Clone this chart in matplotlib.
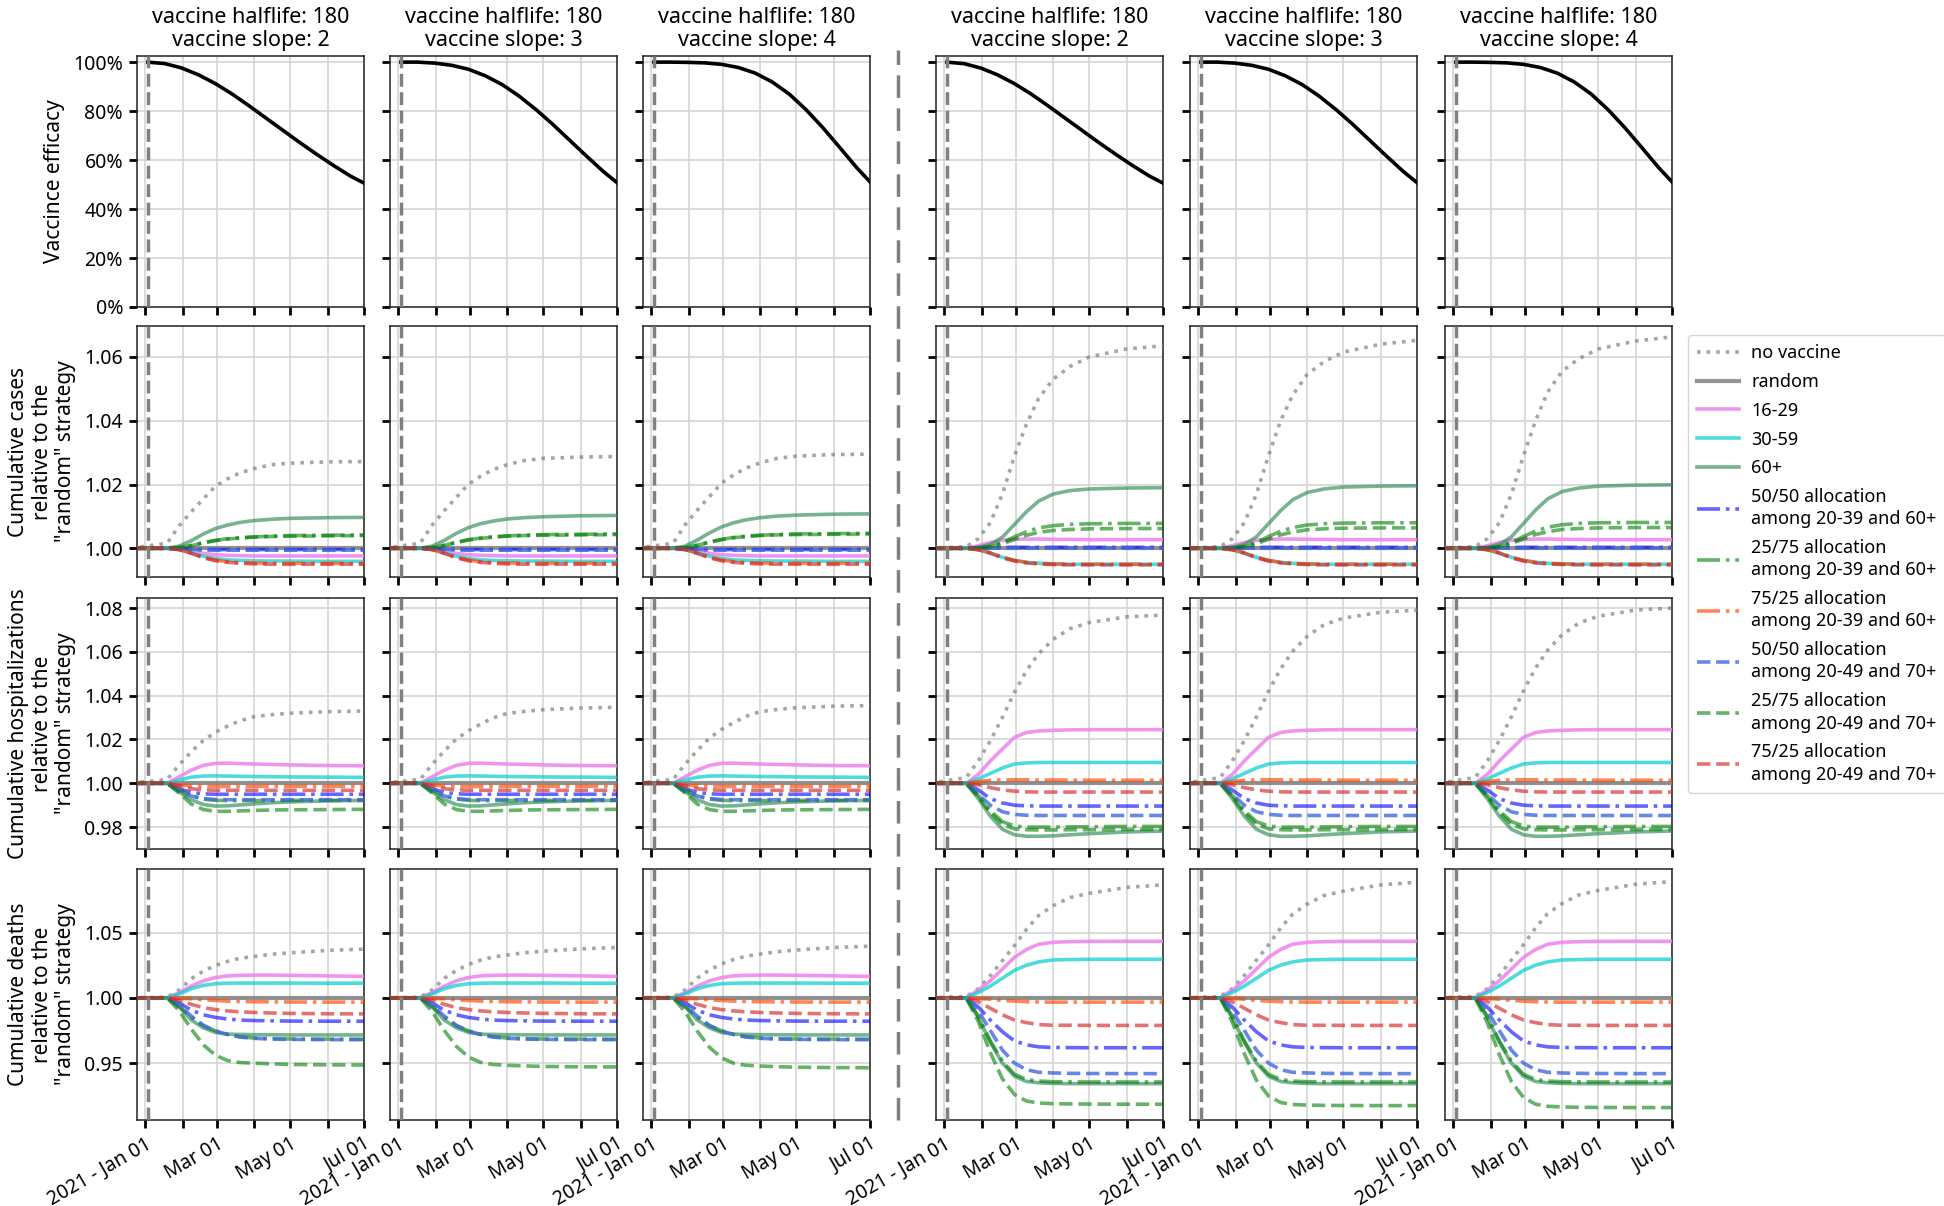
import matplotlib.pyplot as plt
import pandas as pd
from matplotlib.lines import Line2D
from matplotlib.ticker import PercentFormatter

plt.rcParams["font.family"] = ["Noto Sans", "DejaVu Sans"]

# ---------------- data ----------------
slopes = [2, 3, 4, 2, 3, 4]
halflife = 180

month_ticks = pd.to_datetime(["2021-01-01", "2021-02-01", "2021-03-01", "2021-04-01",
                              "2021-05-01", "2021-06-01", "2021-07-01"])
month_labels = ["2021 - Jan 01", "", "Mar 01", "", "May 01", "", "Jul 01"]
vacc_start = pd.Timestamp("2021-01-03")
x_start = pd.Timestamp("2020-12-25")
x_end = pd.Timestamp("2021-07-01")

# efficacy curves (row 1)
eff_dates = pd.to_datetime(["2021-01-03", "2021-01-17", "2021-01-31", "2021-02-14", "2021-02-28",
                            "2021-03-14", "2021-03-28", "2021-04-11", "2021-04-25", "2021-05-09",
                            "2021-05-23", "2021-06-06", "2021-06-20", "2021-07-01"])
eff_slope2 = [1.0, 0.994, 0.976, 0.948, 0.912, 0.869, 0.821, 0.771, 0.721, 0.671, 0.623, 0.577, 0.534, 0.506]
eff_slope3 = [1.0, 1.0, 0.996, 0.987, 0.971, 0.944, 0.908, 0.861, 0.806, 0.745, 0.680, 0.615, 0.552, 0.508]
eff_slope4 = [1.0, 1.0, 0.999, 0.997, 0.991, 0.978, 0.955, 0.919, 0.870, 0.806, 0.732, 0.651, 0.569, 0.511]

# simulation output dates (rows 2-4)
dates = pd.to_datetime(["2020-12-20", "2021-01-19", "2021-01-29", "2021-02-08", "2021-02-18",
                        "2021-02-28", "2021-03-10", "2021-03-20", "2021-04-01", "2021-04-15",
                        "2021-05-01", "2021-06-01", "2021-07-01"])
baseline = [1.0, 1.0, 1.0, 1.0, 1.0, 1.0, 1.0, 1.0, 1.0, 1.0, 1.0, 1.0, 1.0]

# --- cumulative cases, one list per column
cases_no_vaccine = [
    [1.0, 1.0016, 1.0071, 1.0115, 1.0155, 1.0195, 1.0218, 1.0236, 1.0250, 1.0262, 1.0267, 1.0271, 1.0272],
    [1.0, 1.0016, 1.0073, 1.0118, 1.0160, 1.0201, 1.0226, 1.0246, 1.0262, 1.0275, 1.0282, 1.0286, 1.0288],
    [1.0, 1.0016, 1.0074, 1.0120, 1.0162, 1.0204, 1.0230, 1.0251, 1.0268, 1.0282, 1.0289, 1.0294, 1.0295],
    [1.0, 1.0005, 1.0030, 1.0080, 1.0170, 1.0290, 1.0390, 1.0470, 1.0530, 1.0570, 1.0600, 1.0625, 1.0635],
    [1.0, 1.0005, 1.0030, 1.0080, 1.0170, 1.0290, 1.0400, 1.0480, 1.0545, 1.0585, 1.0615, 1.0640, 1.0652],
    [1.0, 1.0005, 1.0030, 1.0080, 1.0170, 1.0290, 1.0400, 1.0490, 1.0555, 1.0595, 1.0625, 1.0650, 1.0663],
]
cases_16_29_l = [1.0, 1.0, 0.9997, 0.9990, 0.9984, 0.9980, 0.9978, 0.9977, 0.9976, 0.9976, 0.9976, 0.9976, 0.9976]
cases_16_29_r = [1.0, 1.0, 1.0008, 1.0018, 1.0025, 1.0028, 1.0029, 1.0029, 1.0028, 1.0028, 1.0027, 1.0027, 1.0027]
cases_16_29 = [cases_16_29_l, cases_16_29_l, cases_16_29_l, cases_16_29_r, cases_16_29_r, cases_16_29_r]
cases_30_59_l = [1.0, 1.0, 0.9996, 0.9985, 0.9975, 0.9968, 0.9964, 0.9962, 0.9961, 0.9960, 0.9960, 0.9959, 0.9959]
cases_30_59_r = [1.0, 1.0, 0.9995, 0.9985, 0.9972, 0.9962, 0.9956, 0.9953, 0.9951, 0.9950, 0.9950, 0.9950, 0.9950]
cases_30_59 = [cases_30_59_l, cases_30_59_l, cases_30_59_l, cases_30_59_r, cases_30_59_r, cases_30_59_r]
cases_60_plus = [
    [1.0, 1.0, 1.0007, 1.0024, 1.0045, 1.0062, 1.0073, 1.0081, 1.0087, 1.0091, 1.0094, 1.0096, 1.0097],
    [1.0, 1.0, 1.0007, 1.0025, 1.0047, 1.0065, 1.0077, 1.0085, 1.0092, 1.0096, 1.0099, 1.0102, 1.0103],
    [1.0, 1.0, 1.0007, 1.0026, 1.0048, 1.0067, 1.0080, 1.0089, 1.0096, 1.0101, 1.0104, 1.0107, 1.0108],
    [1.0, 1.0, 1.0003, 1.0012, 1.0035, 1.0075, 1.0115, 1.0148, 1.0170, 1.0181, 1.0186, 1.0189, 1.0190],
    [1.0, 1.0, 1.0003, 1.0012, 1.0036, 1.0077, 1.0118, 1.0152, 1.0175, 1.0186, 1.0192, 1.0195, 1.0196],
    [1.0, 1.0, 1.0003, 1.0012, 1.0036, 1.0078, 1.0120, 1.0155, 1.0178, 1.0189, 1.0195, 1.0198, 1.0199],
]
cases_5050_a_l = [1.0, 1.0, 0.9999, 0.9997, 0.9996, 0.9996, 0.9996, 0.9996, 0.9996, 0.9996, 0.9996, 0.9996, 0.9996]
cases_5050_a_r = [1.0, 1.0, 1.0000, 1.0002, 1.0003, 1.0003, 1.0003, 1.0003, 1.0003, 1.0003, 1.0003, 1.0003, 1.0003]
cases_5050_a = [cases_5050_a_l, cases_5050_a_l, cases_5050_a_l, cases_5050_a_r, cases_5050_a_r, cases_5050_a_r]
cases_2575_a = [
    [1.0, 1.0, 1.0002, 1.0009, 1.0018, 1.0025, 1.0030, 1.0033, 1.0036, 1.0038, 1.0040, 1.0041, 1.0042],
    [1.0, 1.0, 1.0002, 1.0010, 1.0019, 1.0027, 1.0032, 1.0036, 1.0039, 1.0041, 1.0043, 1.0044, 1.0045],
    [1.0, 1.0, 1.0002, 1.0010, 1.0020, 1.0028, 1.0034, 1.0038, 1.0041, 1.0043, 1.0045, 1.0046, 1.0047],
    [1.0, 1.0, 1.0001, 1.0006, 1.0018, 1.0036, 1.0052, 1.0064, 1.0071, 1.0075, 1.0077, 1.0078, 1.0078],
    [1.0, 1.0, 1.0001, 1.0006, 1.0018, 1.0037, 1.0053, 1.0065, 1.0073, 1.0077, 1.0079, 1.0080, 1.0080],
    [1.0, 1.0, 1.0001, 1.0006, 1.0018, 1.0037, 1.0054, 1.0066, 1.0074, 1.0078, 1.0080, 1.0081, 1.0081],
]
cases_7525_a_l = [1.0, 1.0, 0.9996, 0.9985, 0.9972, 0.9963, 0.9958, 0.9955, 0.9954, 0.9953, 0.9953, 0.9953, 0.9953]
cases_7525_a_r = [1.0, 1.0, 0.9996, 0.9986, 0.9972, 0.9962, 0.9956, 0.9953, 0.9951, 0.9950, 0.9950, 0.9950, 0.9950]
cases_7525_a = [cases_7525_a_l, cases_7525_a_l, cases_7525_a_l, cases_7525_a_r, cases_7525_a_r, cases_7525_a_r]
cases_5050_b_l = [1.0, 1.0, 0.9999, 0.9997, 0.9995, 0.9994, 0.9994, 0.9994, 0.9994, 0.9994, 0.9994, 0.9994, 0.9994]
cases_5050_b_r = [1.0, 1.0, 1.0000, 1.0001, 1.0001, 1.0001, 1.0001, 1.0001, 1.0001, 1.0001, 1.0001, 1.0001, 1.0001]
cases_5050_b = [cases_5050_b_l, cases_5050_b_l, cases_5050_b_l, cases_5050_b_r, cases_5050_b_r, cases_5050_b_r]
cases_2575_b = [
    [1.0, 1.0, 1.0002, 1.0008, 1.0017, 1.0024, 1.0029, 1.0032, 1.0035, 1.0037, 1.0038, 1.0039, 1.0040],
    [1.0, 1.0, 1.0002, 1.0009, 1.0018, 1.0026, 1.0031, 1.0035, 1.0038, 1.0040, 1.0041, 1.0042, 1.0043],
    [1.0, 1.0, 1.0002, 1.0009, 1.0019, 1.0027, 1.0033, 1.0037, 1.0040, 1.0042, 1.0043, 1.0044, 1.0045],
    [1.0, 1.0, 1.0001, 1.0005, 1.0014, 1.0028, 1.0041, 1.0050, 1.0056, 1.0059, 1.0061, 1.0062, 1.0062],
    [1.0, 1.0, 1.0001, 1.0005, 1.0014, 1.0029, 1.0042, 1.0051, 1.0058, 1.0061, 1.0063, 1.0064, 1.0064],
    [1.0, 1.0, 1.0001, 1.0005, 1.0015, 1.0029, 1.0043, 1.0052, 1.0059, 1.0062, 1.0064, 1.0065, 1.0065],
]
cases_7525_b_l = [1.0, 1.0, 0.9996, 0.9984, 0.9970, 0.9961, 0.9956, 0.9953, 0.9951, 0.9950, 0.9950, 0.9950, 0.9950]
cases_7525_b_r = [1.0, 1.0, 0.9996, 0.9985, 0.9970, 0.9960, 0.9954, 0.9951, 0.9949, 0.9948, 0.9948, 0.9948, 0.9948]
cases_7525_b = [cases_7525_b_l, cases_7525_b_l, cases_7525_b_l, cases_7525_b_r, cases_7525_b_r, cases_7525_b_r]

# --- cumulative hospitalizations
hosp_no_vaccine = [
    [1.0, 1.0018, 1.0085, 1.0144, 1.0196, 1.0233, 1.0261, 1.0285, 1.0304, 1.0313, 1.0320, 1.0327, 1.0330],
    [1.0, 1.0018, 1.0087, 1.0148, 1.0202, 1.0240, 1.0270, 1.0298, 1.0319, 1.0328, 1.0336, 1.0344, 1.0347],
    [1.0, 1.0018, 1.0088, 1.0150, 1.0206, 1.0246, 1.0277, 1.0305, 1.0327, 1.0337, 1.0345, 1.0352, 1.0355],
    [1.0, 1.0026, 1.0102, 1.0194, 1.0301, 1.0416, 1.0515, 1.0592, 1.0657, 1.0706, 1.0734, 1.0760, 1.0768],
    [1.0, 1.0026, 1.0102, 1.0195, 1.0303, 1.0420, 1.0522, 1.0603, 1.0671, 1.0724, 1.0754, 1.0781, 1.0790],
    [1.0, 1.0026, 1.0102, 1.0195, 1.0304, 1.0422, 1.0526, 1.0608, 1.0678, 1.0732, 1.0763, 1.0791, 1.0800],
]
hosp_16_29_l = [1.0, 1.0, 1.0030, 1.0060, 1.0082, 1.0091, 1.0092, 1.0090, 1.0088, 1.0086, 1.0084, 1.0081, 1.0080]
hosp_16_29_r = [1.0, 1.0, 1.0040, 1.0102, 1.0156, 1.0210, 1.0232, 1.0239, 1.0242, 1.0244, 1.0245, 1.0245, 1.0245]
hosp_16_29 = [hosp_16_29_l, hosp_16_29_l, hosp_16_29_l, hosp_16_29_r, hosp_16_29_r, hosp_16_29_r]
hosp_30_59_l = [1.0, 1.0, 1.0015, 1.0028, 1.0033, 1.0034, 1.0033, 1.0032, 1.0031, 1.0030, 1.0029, 1.0028, 1.0027]
hosp_30_59_r = [1.0, 1.0, 1.0020, 1.0045, 1.0070, 1.0088, 1.0093, 1.0095, 1.0095, 1.0095, 1.0095, 1.0095, 1.0095]
hosp_30_59 = [hosp_30_59_l, hosp_30_59_l, hosp_30_59_l, hosp_30_59_r, hosp_30_59_r, hosp_30_59_r]
hosp_60_plus_l = [1.0, 1.0, 0.9960, 0.9925, 0.9903, 0.9896, 0.9897, 0.9901, 0.9906, 0.9911, 0.9915, 0.9920, 0.9922]
hosp_60_plus_r = [1.0, 1.0, 0.9930, 0.9850, 0.9790, 0.9765, 0.9758, 0.9758, 0.9760, 0.9765, 0.9770, 0.9778, 0.9782]
hosp_60_plus = [hosp_60_plus_l, hosp_60_plus_l, hosp_60_plus_l, hosp_60_plus_r, hosp_60_plus_r, hosp_60_plus_r]
hosp_5050_a_l = [1.0, 1.0, 0.9975, 0.9958, 0.9952, 0.9950, 0.9950, 0.9950, 0.9950, 0.9950, 0.9950, 0.9950, 0.9950]
hosp_5050_a_r = [1.0, 1.0, 0.9970, 0.9930, 0.9910, 0.9900, 0.9897, 0.9896, 0.9896, 0.9896, 0.9896, 0.9896, 0.9896]
hosp_5050_a = [hosp_5050_a_l, hosp_5050_a_l, hosp_5050_a_l, hosp_5050_a_r, hosp_5050_a_r, hosp_5050_a_r]
hosp_2575_a_l = [1.0, 1.0, 0.9968, 0.9942, 0.9928, 0.9922, 0.9921, 0.9921, 0.9921, 0.9921, 0.9922, 0.9922, 0.9922]
hosp_2575_a_r = [1.0, 1.0, 0.9945, 0.9875, 0.9825, 0.9805, 0.9800, 0.9800, 0.9800, 0.9801, 0.9802, 0.9803, 0.9803]
hosp_2575_a = [hosp_2575_a_l, hosp_2575_a_l, hosp_2575_a_l, hosp_2575_a_r, hosp_2575_a_r, hosp_2575_a_r]
hosp_7525_a_l = [1.0, 1.0, 0.9993, 0.9987, 0.9985, 0.9985, 0.9985, 0.9985, 0.9986, 0.9986, 0.9986, 0.9986, 0.9986]
hosp_7525_a_r = [1.0, 1.0, 1.0008, 1.0014, 1.0016, 1.0016, 1.0016, 1.0015, 1.0015, 1.0015, 1.0014, 1.0014, 1.0014]
hosp_7525_a = [hosp_7525_a_l, hosp_7525_a_l, hosp_7525_a_l, hosp_7525_a_r, hosp_7525_a_r, hosp_7525_a_r]
hosp_5050_b_l = [1.0, 1.0, 0.9966, 0.9942, 0.9930, 0.9926, 0.9925, 0.9925, 0.9925, 0.9925, 0.9925, 0.9925, 0.9925]
hosp_5050_b_r = [1.0, 1.0, 0.9950, 0.9900, 0.9870, 0.9858, 0.9854, 0.9853, 0.9853, 0.9853, 0.9853, 0.9853, 0.9853]
hosp_5050_b = [hosp_5050_b_l, hosp_5050_b_l, hosp_5050_b_l, hosp_5050_b_r, hosp_5050_b_r, hosp_5050_b_r]
hosp_2575_b_l = [1.0, 1.0, 0.9955, 0.9905, 0.9880, 0.9872, 0.9872, 0.9874, 0.9876, 0.9878, 0.9879, 0.9880, 0.9881]
hosp_2575_b_r = [1.0, 1.0, 0.9940, 0.9865, 0.9812, 0.9792, 0.9788, 0.9787, 0.9787, 0.9788, 0.9788, 0.9789, 0.9789]
hosp_2575_b = [hosp_2575_b_l, hosp_2575_b_l, hosp_2575_b_l, hosp_2575_b_r, hosp_2575_b_r, hosp_2575_b_r]
hosp_7525_b_l = [1.0, 1.0, 0.9988, 0.9975, 0.9970, 0.9968, 0.9968, 0.9968, 0.9968, 0.9968, 0.9968, 0.9968, 0.9968]
hosp_7525_b_r = [1.0, 1.0, 0.9993, 0.9980, 0.9970, 0.9964, 0.9961, 0.9960, 0.9960, 0.9960, 0.9960, 0.9960, 0.9960]
hosp_7525_b = [hosp_7525_b_l, hosp_7525_b_l, hosp_7525_b_l, hosp_7525_b_r, hosp_7525_b_r, hosp_7525_b_r]

# --- cumulative deaths
deaths_no_vaccine = [
    [1.0, 1.0005, 1.0060, 1.0146, 1.0205, 1.0248, 1.0279, 1.0302, 1.0317, 1.0333, 1.0345, 1.0363, 1.0373],
    [1.0, 1.0005, 1.0061, 1.0149, 1.0210, 1.0255, 1.0288, 1.0312, 1.0328, 1.0345, 1.0357, 1.0375, 1.0385],
    [1.0, 1.0005, 1.0062, 1.0151, 1.0213, 1.0259, 1.0293, 1.0318, 1.0335, 1.0353, 1.0366, 1.0385, 1.0395],
    [1.0, 1.0010, 1.0069, 1.0170, 1.0285, 1.0400, 1.0525, 1.0630, 1.0705, 1.0768, 1.0800, 1.0845, 1.0865],
    [1.0, 1.0010, 1.0069, 1.0171, 1.0288, 1.0405, 1.0533, 1.0640, 1.0718, 1.0783, 1.0817, 1.0864, 1.0885],
    [1.0, 1.0010, 1.0069, 1.0171, 1.0289, 1.0407, 1.0536, 1.0644, 1.0722, 1.0788, 1.0822, 1.0869, 1.0890],
]
deaths_16_29_l = [1.0, 1.0, 1.0040, 1.0090, 1.0130, 1.0155, 1.0168, 1.0172, 1.0174, 1.0174, 1.0172, 1.0168, 1.0164]
deaths_16_29_r = [1.0, 1.0, 1.0060, 1.0130, 1.0220, 1.0310, 1.0370, 1.0410, 1.0425, 1.0430, 1.0432, 1.0433, 1.0433]
deaths_16_29 = [deaths_16_29_l, deaths_16_29_l, deaths_16_29_l, deaths_16_29_r, deaths_16_29_r, deaths_16_29_r]
deaths_30_59_l = [1.0, 1.0, 1.0030, 1.0070, 1.0095, 1.0108, 1.0112, 1.0113, 1.0113, 1.0113, 1.0113, 1.0112, 1.0112]
deaths_30_59_r = [1.0, 1.0, 1.0040, 1.0090, 1.0150, 1.0210, 1.0250, 1.0275, 1.0290, 1.0293, 1.0295, 1.0295, 1.0295]
deaths_30_59 = [deaths_30_59_l, deaths_30_59_l, deaths_30_59_l, deaths_30_59_r, deaths_30_59_r, deaths_30_59_r]
deaths_60_plus_l = [1.0, 1.0, 0.9930, 0.9830, 0.9770, 0.9735, 0.9722, 0.9720, 0.9718, 0.9717, 0.9716, 0.9716, 0.9716]
deaths_60_plus_r = [1.0, 1.0, 0.9850, 0.9660, 0.9500, 0.9400, 0.9360, 0.9350, 0.9345, 0.9343, 0.9343, 0.9343, 0.9343]
deaths_60_plus = [deaths_60_plus_l, deaths_60_plus_l, deaths_60_plus_l,
                  deaths_60_plus_r, deaths_60_plus_r, deaths_60_plus_r]
deaths_5050_a_l = [1.0, 1.0, 0.9960, 0.9905, 0.9870, 0.9850, 0.9838, 0.9830, 0.9826, 0.9824, 0.9822, 0.9821, 0.9821]
deaths_5050_a_r = [1.0, 1.0, 0.9930, 0.9830, 0.9740, 0.9670, 0.9640, 0.9625, 0.9620, 0.9619, 0.9618, 0.9618, 0.9618]
deaths_5050_a = [deaths_5050_a_l, deaths_5050_a_l, deaths_5050_a_l,
                 deaths_5050_a_r, deaths_5050_a_r, deaths_5050_a_r]
deaths_2575_a_l = [1.0, 1.0, 0.9935, 0.9850, 0.9785, 0.9748, 0.9720, 0.9703, 0.9692, 0.9687, 0.9685, 0.9684, 0.9683]
deaths_2575_a_r = [1.0, 1.0, 0.9860, 0.9670, 0.9515, 0.9415, 0.9375, 0.9363, 0.9358, 0.9357, 0.9356, 0.9356, 0.9356]
deaths_2575_a = [deaths_2575_a_l, deaths_2575_a_l, deaths_2575_a_l,
                 deaths_2575_a_r, deaths_2575_a_r, deaths_2575_a_r]
deaths_7525_a_l = [1.0, 1.0, 0.9997, 0.9993, 0.9985, 0.9980, 0.9975, 0.9972, 0.9970, 0.9969, 0.9968, 0.9967, 0.9967]
deaths_7525_a_r = [1.0, 1.0, 0.9995, 0.9990, 0.9980, 0.9975, 0.9970, 0.9968, 0.9967, 0.9967, 0.9967, 0.9967, 0.9967]
deaths_7525_a = [deaths_7525_a_l, deaths_7525_a_l, deaths_7525_a_l,
                 deaths_7525_a_r, deaths_7525_a_r, deaths_7525_a_r]
deaths_5050_b_l = [1.0, 1.0, 0.9940, 0.9860, 0.9790, 0.9745, 0.9720, 0.9700, 0.9690, 0.9685, 0.9682, 0.9680, 0.9680]
deaths_5050_b_r = [1.0, 1.0, 0.9900, 0.9750, 0.9600, 0.9500, 0.9450, 0.9430, 0.9425, 0.9422, 0.9421, 0.9420, 0.9420]
deaths_5050_b = [deaths_5050_b_l, deaths_5050_b_l, deaths_5050_b_l,
                 deaths_5050_b_r, deaths_5050_b_r, deaths_5050_b_r]
deaths_2575_b = [
    [1.0, 1.0, 0.9900, 0.9760, 0.9640, 0.9560, 0.9520, 0.9505, 0.9500, 0.9495, 0.9490, 0.9487, 0.9486],
    [1.0, 1.0, 0.9893, 0.9750, 0.9628, 0.9547, 0.9506, 0.9490, 0.9484, 0.9479, 0.9475, 0.9472, 0.9471],
    [1.0, 1.0, 0.9890, 0.9745, 0.9622, 0.9541, 0.9500, 0.9484, 0.9478, 0.9473, 0.9469, 0.9466, 0.9465],
    [1.0, 1.0, 0.9820, 0.9580, 0.9380, 0.9260, 0.9210, 0.9195, 0.9190, 0.9188, 0.9187, 0.9186, 0.9186],
    [1.0, 1.0, 0.9815, 0.9572, 0.9370, 0.9249, 0.9199, 0.9184, 0.9179, 0.9177, 0.9176, 0.9175, 0.9175],
    [1.0, 1.0, 0.9810, 0.9565, 0.9360, 0.9237, 0.9186, 0.9170, 0.9165, 0.9162, 0.9161, 0.9160, 0.9160],
]
deaths_7525_b_l = [1.0, 1.0, 0.9980, 0.9950, 0.9925, 0.9910, 0.9900, 0.9893, 0.9888, 0.9884, 0.9881, 0.9878, 0.9877]
deaths_7525_b_r = [1.0, 1.0, 0.9970, 0.9920, 0.9870, 0.9830, 0.9810, 0.9795, 0.9790, 0.9790, 0.9789, 0.9789, 0.9789]
deaths_7525_b = [deaths_7525_b_l, deaths_7525_b_l, deaths_7525_b_l,
                 deaths_7525_b_r, deaths_7525_b_r, deaths_7525_b_r]

# ---------------- styles ----------------
series_labels = [
    "no vaccine", "random", "16-29", "30-59", "60+",
    "50/50 allocation\namong 20-39 and 60+",
    "25/75 allocation\namong 20-39 and 60+",
    "75/25 allocation\namong 20-39 and 60+",
    "50/50 allocation\namong 20-49 and 70+",
    "25/75 allocation\namong 20-49 and 70+",
    "75/25 allocation\namong 20-49 and 70+",
]
series_styles = [
    dict(color="gray", ls=":", alpha=0.7),
    dict(color="gray", ls="-", alpha=0.85),
    dict(color="violet", ls="-", alpha=0.85),
    dict(color="darkturquoise", ls="-", alpha=0.7),
    dict(color="seagreen", ls="-", alpha=0.65),
    dict(color="blue", ls="-.", alpha=0.6),
    dict(color="green", ls="-.", alpha=0.6),
    dict(color="orangered", ls="-.", alpha=0.65),
    dict(color="royalblue", ls="--", alpha=0.8),
    dict(color="green", ls="--", alpha=0.6),
    dict(color="tab:red", ls="--", alpha=0.65),
]
LW = 2.6

rows = [
    [cases_no_vaccine, None, cases_16_29, cases_30_59, cases_60_plus, cases_5050_a,
     cases_2575_a, cases_7525_a, cases_5050_b, cases_2575_b, cases_7525_b],
    [hosp_no_vaccine, None, hosp_16_29, hosp_30_59, hosp_60_plus, hosp_5050_a,
     hosp_2575_a, hosp_7525_a, hosp_5050_b, hosp_2575_b, hosp_7525_b],
    [deaths_no_vaccine, None, deaths_16_29, deaths_30_59, deaths_60_plus, deaths_5050_a,
     deaths_2575_a, deaths_7525_a, deaths_5050_b, deaths_2575_b, deaths_7525_b],
]
row_ylims = [(0.991, 1.0697), (0.970, 1.0846), (0.9065, 1.0986)]
row_yticks = [[1.00, 1.02, 1.04, 1.06], [0.98, 1.00, 1.02, 1.04, 1.06, 1.08], [0.95, 1.00, 1.05]]
row_ylabels = [
    "Vaccince efficacy",
    "Cumulative cases\nrelative to the\n\"random\" strategy",
    "Cumulative hospitalizations\nrelative to the\n\"random\" strategy",
    "Cumulative deaths\nrelative to the\n\"random\" strategy",
]
eff_curves = {2: eff_slope2, 3: eff_slope3, 4: eff_slope4}

# ---------------- layout ----------------
W, H = 1944, 1206
fig = plt.figure(figsize=(W / 100, H / 100), dpi=100)
col_left = [137, 390, 643, 936, 1190, 1445]
col_w = 227
row_top = [56, 326, 598, 869]
row_h = 251

TICK_FS = 14

for r in range(4):
    for c in range(6):
        ax = fig.add_axes([col_left[c] / W, 1 - (row_top[r] + row_h) / H, col_w / W, row_h / H])
        ax.grid(True, color="#d5d5d5", lw=1.2, zorder=0)
        ax.axvline(vacc_start, color="gray", ls="--", lw=2.5, zorder=5)

        if r == 0:
            ax.plot(eff_dates, eff_curves[slopes[c]], color="black", lw=LW, zorder=4)
            ax.set_ylim(0, 1.025)
            ax.set_yticks([0, 0.2, 0.4, 0.6, 0.8, 1.0])
            ax.yaxis.set_major_formatter(PercentFormatter(1.0, decimals=0))
            ax.set_title(f"vaccine halflife: {halflife}\nvaccine slope: {slopes[c]}",
                         fontsize=15.5, pad=7, linespacing=1.15)
        else:
            for k, (label, style) in enumerate(zip(series_labels, series_styles)):
                values = baseline if rows[r - 1][k] is None else rows[r - 1][k][c]
                lw = 3 if k == 1 else LW
                ax.plot(dates, values, lw=lw, zorder=3, **style)
            ax.set_ylim(*row_ylims[r - 1])
            ax.set_yticks(row_yticks[r - 1])
            ax.yaxis.set_major_formatter("{x:.2f}")

        ax.set_xlim(x_start, x_end)
        ax.set_xticks(month_ticks)
        if r == 3:
            ax.set_xticklabels(month_labels, rotation=30, ha="right", rotation_mode="anchor")
        else:
            ax.set_xticklabels([])
        if c != 0:
            ax.set_yticklabels([])
        else:
            ax.set_ylabel(row_ylabels[r], fontsize=15, labelpad=6, linespacing=1.15)

        ax.tick_params(length=6, width=2, color="black", labelsize=TICK_FS, pad=4)
        for sp in ax.spines.values():
            sp.set_color("#222222")
            sp.set_linewidth(1.1)

# dashed separator between the two groups of panels
fig.add_artist(Line2D([898 / W, 898 / W], [1 - 1120 / H, 1 - 50 / H], transform=fig.transFigure,
                      color="gray", lw=2.5, ls=(0, (6.5, 3))))

handles = []
for k, style in enumerate(series_styles):
    lw = 3 if k == 1 else LW
    handles.append(Line2D([], [], lw=lw, **style))
leg = fig.legend(handles, series_labels, loc="upper left", bbox_to_anchor=(1688 / W, 1 - 335 / H),
                 borderaxespad=0, fontsize=13, frameon=True, edgecolor="#cccccc", fancybox=True,
                 handlelength=2.3, handletextpad=0.7, labelspacing=0.6, borderpad=0.5)
for t in leg.get_texts():
    t.set_linespacing(1.3)

fig.savefig("out.png", dpi=100, facecolor="white")
